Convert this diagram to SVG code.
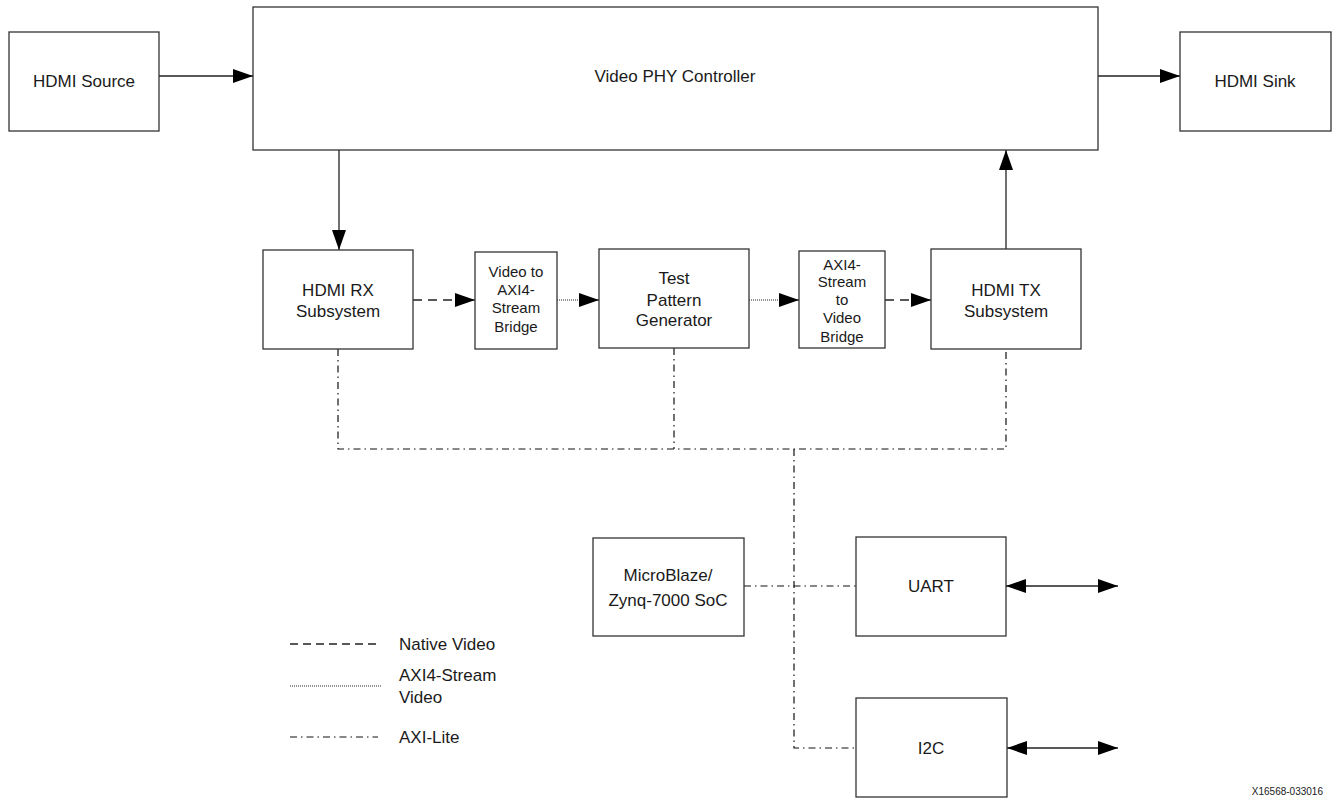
<svg xmlns="http://www.w3.org/2000/svg" width="1333" height="803" viewBox="0 0 1333 803">
<style>
.box{fill:#fff;stroke:#333;stroke-width:1.3}
.t{font-family:"Liberation Sans",Arial,sans-serif;font-size:17px;fill:#1a1a1a;text-anchor:middle}
.s{font-size:15px}
.lg{text-anchor:start}
.id{font-family:"Liberation Sans",Arial,sans-serif;font-size:10px;fill:#1a1a1a;text-anchor:end}
.ln{fill:none;stroke:#222;stroke-width:1.3}
.dash{stroke-dasharray:9,6}
.dot{stroke-dasharray:1,1;stroke-width:1}
.dd{stroke-dasharray:7,4,1.5,4;stroke-width:1.2;stroke:#111}
</style>
<defs>
<marker id="ah" viewBox="0 0 20 14" refX="20" refY="7" markerWidth="20" markerHeight="14" markerUnits="userSpaceOnUse" orient="auto-start-reverse">
<path d="M0,0 L20,7 L0,14 Z" fill="#000"/>
</marker>
</defs>
<rect width="1333" height="803" fill="#fff"/>
<g id="connectors">
<line class="ln" x1="159" y1="76" x2="253" y2="76" marker-end="url(#ah)"/>
<line class="ln" x1="1098" y1="76" x2="1180" y2="76" marker-end="url(#ah)"/>
<line class="ln" x1="339" y1="150" x2="339" y2="250" marker-end="url(#ah)"/>
<line class="ln" x1="1006" y1="249" x2="1006" y2="150" marker-end="url(#ah)"/>
<line class="ln dash" x1="413" y1="300" x2="456" y2="300"/>
<line class="ln" x1="455" y1="300" x2="475" y2="300" marker-end="url(#ah)"/>
<line class="ln dot" x1="557" y1="300" x2="580" y2="300"/>
<line class="ln" x1="579" y1="300" x2="599" y2="300" marker-end="url(#ah)"/>
<line class="ln dot" x1="749" y1="300" x2="780" y2="300"/>
<line class="ln" x1="779" y1="300" x2="799" y2="300" marker-end="url(#ah)"/>
<line class="ln dash" x1="885" y1="300" x2="912" y2="300"/>
<line class="ln" x1="911" y1="300" x2="931" y2="300" marker-end="url(#ah)"/>
<path class="ln dd" d="M338,349 V449 H1006 V349"/>
<line class="ln dd" x1="674" y1="348" x2="674" y2="449"/>
<path class="ln dd" d="M794,449 V748 H856"/>
<line class="ln dd" x1="744" y1="586" x2="856" y2="586"/>
<line class="ln" x1="1006" y1="586" x2="1118" y2="586" marker-start="url(#ah)" marker-end="url(#ah)"/>
<line class="ln" x1="1007" y1="748" x2="1118" y2="748" marker-start="url(#ah)" marker-end="url(#ah)"/>
</g>
<g id="hdmi-source"><rect class="box" x="9" y="32" width="150" height="99"/><text class="t" x="84" y="87">HDMI Source</text></g>
<g id="video-phy"><rect class="box" x="253" y="7" width="845" height="143"/><text class="t" x="675" y="82">Video PHY Controller</text></g>
<g id="hdmi-sink"><rect class="box" x="1180" y="32" width="151" height="99"/><text class="t" x="1255" y="87">HDMI Sink</text></g>
<g id="hdmi-rx"><rect class="box" x="263" y="250" width="150" height="99"/><text class="t" x="338" y="296">HDMI RX</text><text class="t" x="338" y="317">Subsystem</text></g>
<g id="v2axi"><rect class="box" x="475" y="252" width="82" height="97"/><text class="t s" x="516" y="277">Video to</text><text class="t s" x="516" y="295">AXI4-</text><text class="t s" x="516" y="313">Stream</text><text class="t s" x="516" y="332">Bridge</text></g>
<g id="tpg"><rect class="box" x="599" y="249" width="150" height="99"/><text class="t" x="674" y="284">Test</text><text class="t" x="674" y="306">Pattern</text><text class="t" x="674" y="326">Generator</text></g>
<g id="axi2v"><rect class="box" x="799" y="251" width="86" height="97"/><text class="t s" x="842" y="270">AXI4-</text><text class="t s" x="842" y="287">Stream</text><text class="t s" x="842" y="305">to</text><text class="t s" x="842" y="323">Video</text><text class="t s" x="842" y="342">Bridge</text></g>
<g id="hdmi-tx"><rect class="box" x="931" y="249" width="150" height="100"/><text class="t" x="1006" y="296">HDMI TX</text><text class="t" x="1006" y="317">Subsystem</text></g>
<g id="microblaze"><rect class="box" x="593" y="538" width="151" height="98"/><text class="t" x="668" y="581">MicroBlaze/</text><text class="t" x="668" y="606">Zynq-7000 SoC</text></g>
<g id="uart"><rect class="box" x="856" y="537" width="150" height="99"/><text class="t" x="931" y="592">UART</text></g>
<g id="i2c"><rect class="box" x="856" y="698" width="151" height="99"/><text class="t" x="931" y="754">I2C</text></g>
<g id="legend">
<line class="ln dash" x1="290" y1="644" x2="378" y2="644" style="stroke-dasharray:8,5"/>
<text class="t lg" x="399" y="650">Native Video</text>
<line class="ln dot" x1="290" y1="686" x2="381" y2="686"/>
<text class="t lg" x="399" y="681">AXI4-Stream</text>
<text class="t lg" x="399" y="703">Video</text>
<line class="ln dd" x1="290" y1="737" x2="378" y2="737"/>
<text class="t lg" x="399" y="743">AXI-Lite</text>
</g>
<text class="id" x="1323" y="795">X16568-033016</text>
</svg>
